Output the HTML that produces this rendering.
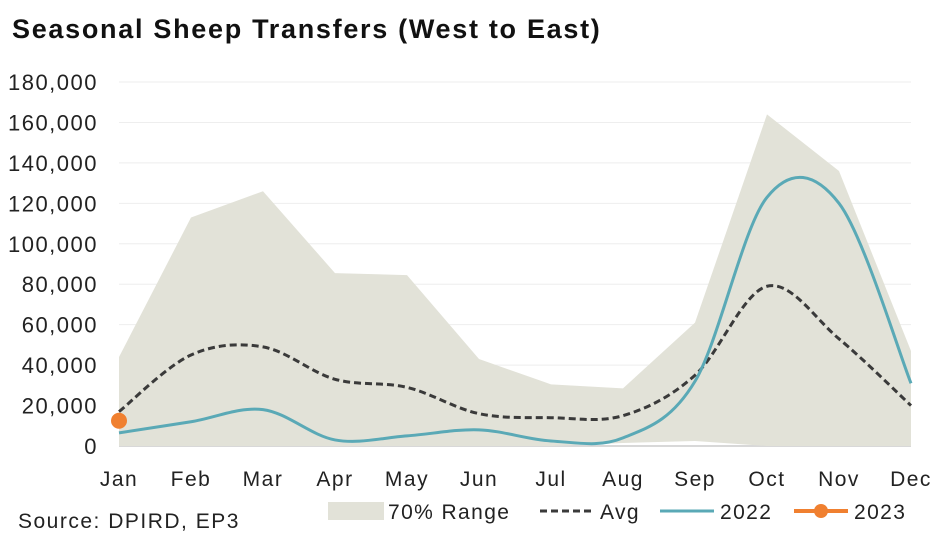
<!DOCTYPE html>
<html><head><meta charset="utf-8"><style>
body{margin:0;background:#fff;font-family:"Liberation Sans",sans-serif;}
svg text{font-family:"Liberation Sans",sans-serif;}
</style></head><body>
<svg id="c" width="947" height="541">
<text x="12" y="38" font-size="27" font-weight="bold" letter-spacing="1.7" fill="#111">Seasonal Sheep Transfers (West to East)</text>
<g id="grid"></g><g id="marks"></g><g id="axes"></g>
<text x="18" y="528" font-size="21" letter-spacing="1.5" fill="#222">Source: DPIRD, EP3</text>
<g font-size="21" letter-spacing="1.4">
<rect x="328" y="502" width="56" height="18" fill="#e2e2d8"/>
<text x="388" y="519" fill="#222">70% Range</text>
<line x1="540" y1="511" x2="594" y2="511" stroke="#3a3a3a" stroke-width="3" stroke-dasharray="7,4"/>
<text x="600" y="519" fill="#222">Avg</text>
<line x1="660" y1="511" x2="714" y2="511" stroke="#5aa9b6" stroke-width="3"/>
<text x="720" y="519" fill="#222">2022</text>
<line x1="794" y1="511" x2="848" y2="511" stroke="#f08030" stroke-width="4"/>
<circle cx="821" cy="511" r="7" fill="#f08030"/>
<text x="854" y="519" fill="#222">2023</text>
</g>
</svg>
<script>
const months=["Jan","Feb","Mar","Apr","May","Jun","Jul","Aug","Sep","Oct","Nov","Dec"];
const rangeHigh=[44000,113000,126000,85500,84500,43000,30500,28500,61000,164000,136000,47000];
const rangeLow=[0,0,0,0,0,0,0,1500,2500,0,0,0];
const avg=[17000,45000,49000,33000,29000,16000,14000,15000,35000,79000,53000,20000];
const y2022=[6500,12000,18000,3000,5000,8000,2500,4000,32000,123000,120000,31000];
const y2023=[12500];
const yTicks=[0,20000,40000,60000,80000,100000,120000,140000,160000,180000];
const NS="http://www.w3.org/2000/svg";
const x=i=>119+i*(911-119)/11;
const y=v=>446-v*(446-82)/180000;
function mk(tag,attrs,parent){const e=document.createElementNS(NS,tag);for(const k in attrs)e.setAttribute(k,attrs[k]);document.getElementById(parent).appendChild(e);return e;}
function curve(vals){const p=vals.map((v,i)=>[x(i),y(v)]);let d="M"+p[0];
for(let i=0;i<p.length-1;i++){const p0=p[i-1]||p[i],p1=p[i],p2=p[i+1],p3=p[i+2]||p2;
const c1=[p1[0]+(p2[0]-p0[0])/6,p1[1]+(p2[1]-p0[1])/6],c2=[p2[0]-(p3[0]-p1[0])/6,p2[1]-(p3[1]-p1[1])/6];
d+=" C"+c1+" "+c2+" "+p2;}return d;}
yTicks.forEach(v=>{
const l=mk("line",{x1:119,x2:911,y1:y(v),y2:y(v),stroke:v===0?"#d8d8d8":"#eeeeee","stroke-width":v===0?2:1},"grid");


const t=mk("text",{x:98,y:y(v)+8,"text-anchor":"end","font-size":22,"letter-spacing":1.5,fill:"#222"},"axes");t.textContent=v.toLocaleString("en-US");


});
months.forEach((m,i)=>{const t=mk("text",{x:x(i),y:486,"text-anchor":"middle","font-size":21,"letter-spacing":1.5,fill:"#222"},"axes");t.textContent=m;

});
let d="M"+rangeHigh.map((v,i)=>x(i)+","+y(v)).join(" L");
for(let i=11;i>=0;i--)d+=" L"+x(i)+","+y(rangeLow[i]);
const a=mk("path",{d:d+"Z",fill:"#e2e2d8"},"marks");


const av=mk("path",{d:curve(avg),fill:"none",stroke:"#3a3a3a","stroke-width":3,"stroke-dasharray":"7,4"},"marks");


const l22=mk("path",{d:curve(y2022),fill:"none",stroke:"#5aa9b6","stroke-width":3},"marks");


y2023.forEach((v,i)=>{const c=mk("circle",{cx:x(i),cy:y(v),r:8,fill:"#f08030"},"marks");

});
</script>
</body></html>
